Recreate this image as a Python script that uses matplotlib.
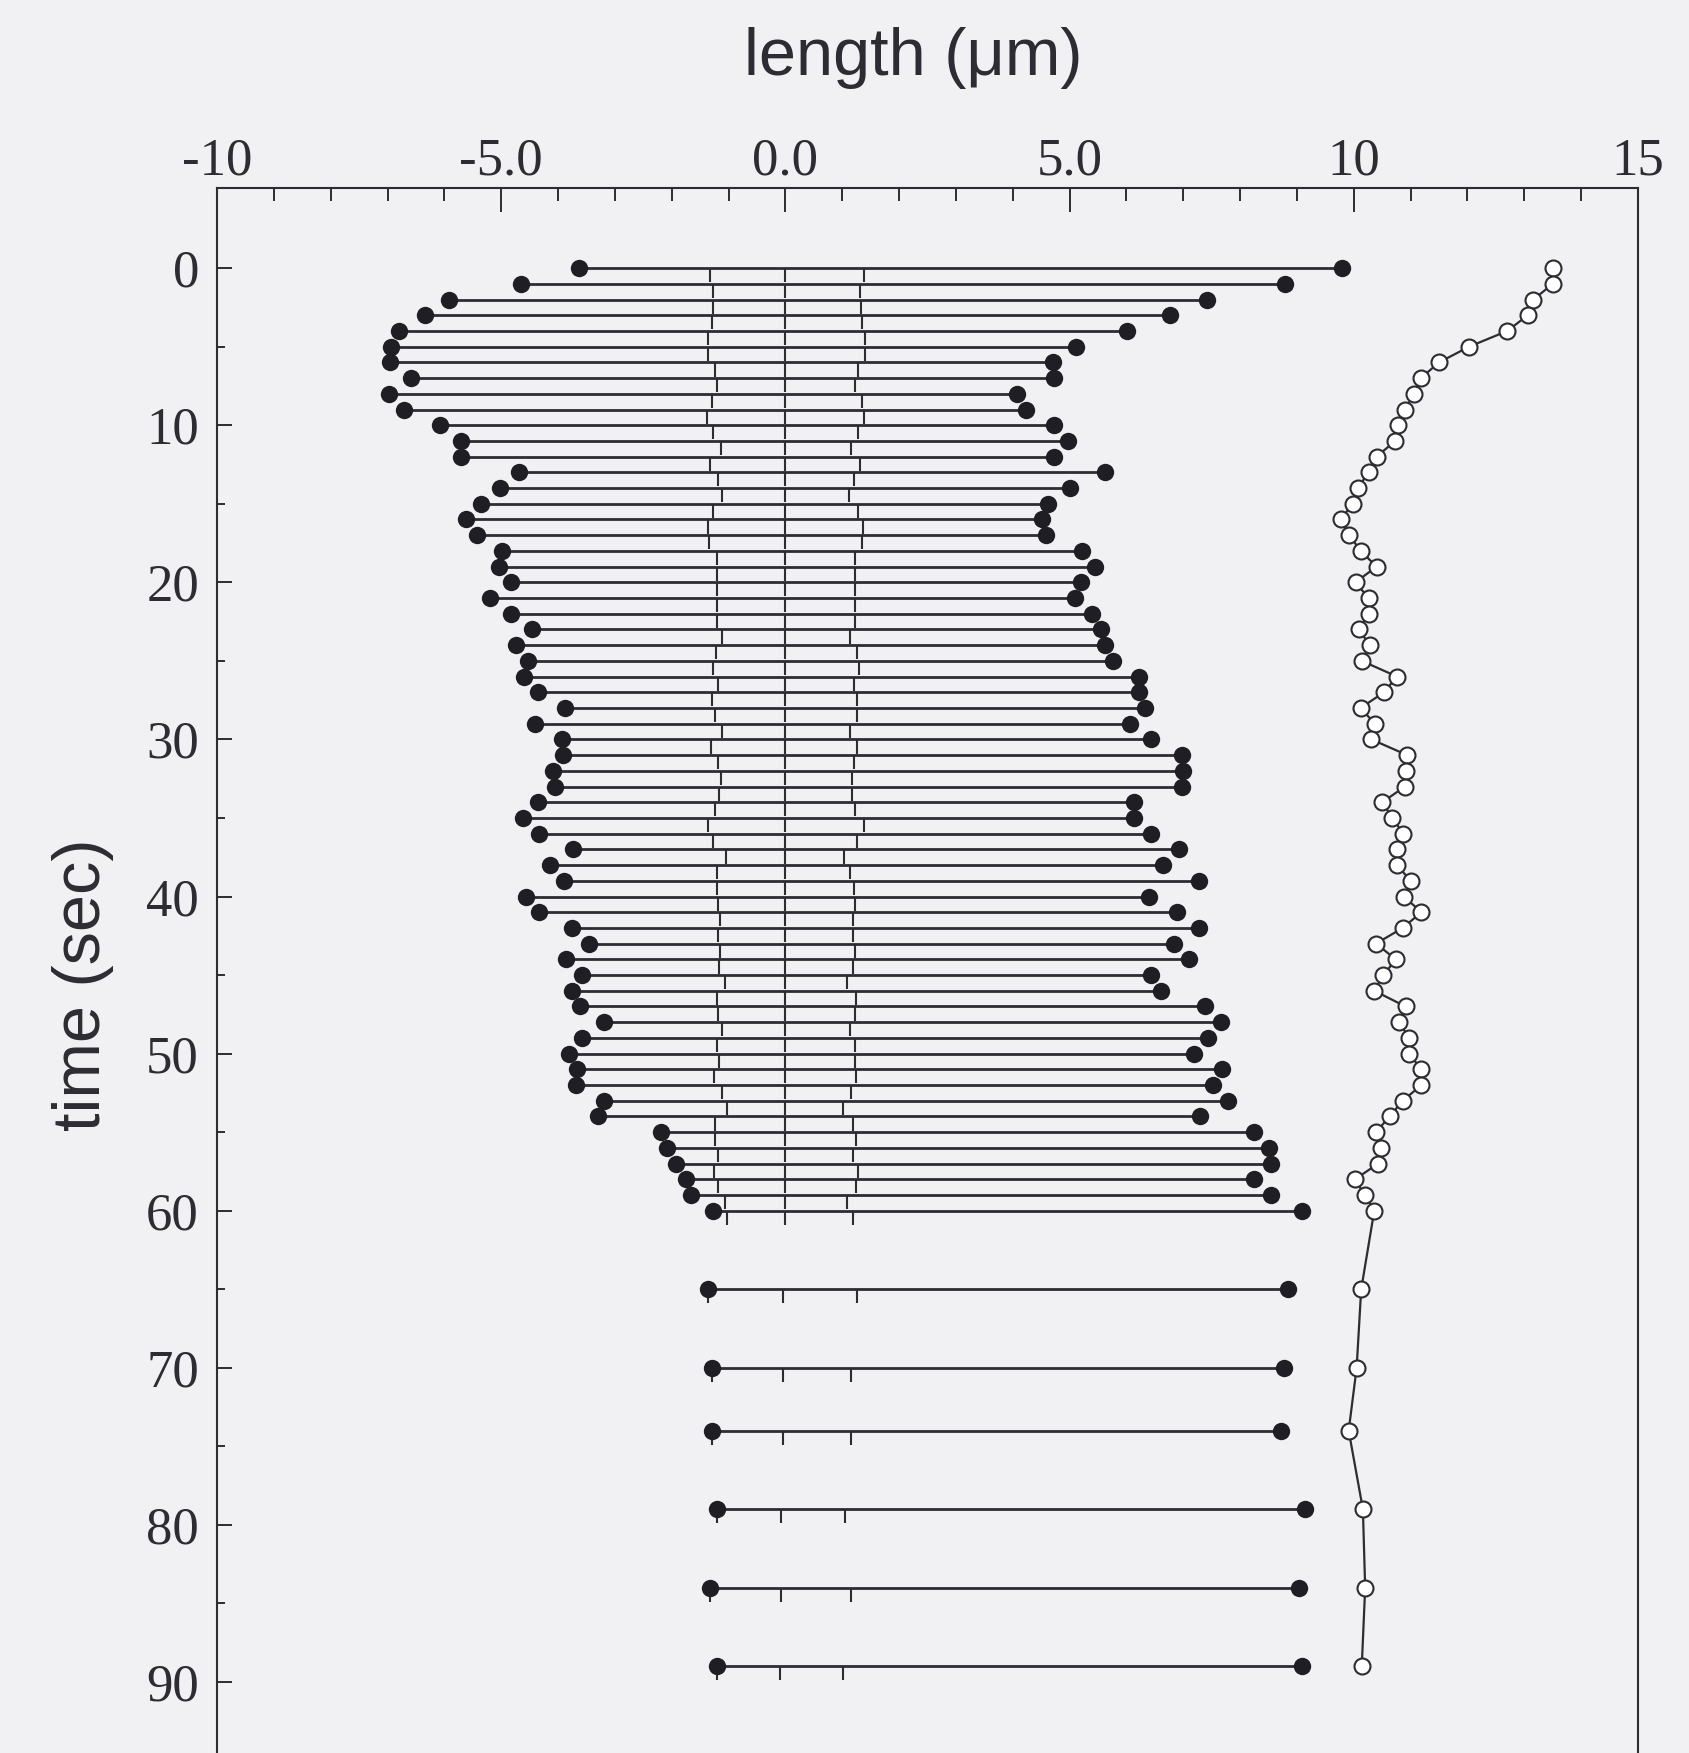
import matplotlib.pyplot as plt
import matplotlib.ticker as mticker

# time of each recorded row (sec)
times = [0, 1, 2, 3, 4, 5, 6, 7, 8, 9, 10, 11, 12, 13, 14, 15, 16, 17, 18, 19,
         20, 21, 22, 23, 24, 25, 26, 27, 28, 29, 30, 31, 32, 33, 34, 35, 36, 37, 38, 39,
         40, 41, 42, 43, 44, 45, 46, 47, 48, 49, 50, 51, 52, 53, 54, 55, 56, 57, 58, 59,
         60, 65, 70, 74, 79, 84, 89]

# left end (filled dot), um
left_end = [-3.63, -4.65, -5.91, -6.34, -6.80, -6.94, -6.95, -6.59, -6.98, -6.71,
            -6.08, -5.71, -5.71, -4.69, -5.02, -5.35, -5.62, -5.43, -4.98, -5.04,
            -4.83, -5.20, -4.83, -4.46, -4.74, -4.52, -4.60, -4.35, -3.88, -4.40,
            -3.93, -3.91, -4.08, -4.05, -4.35, -4.62, -4.34, -3.73, -4.15, -3.89,
            -4.57, -4.33, -3.76, -3.46, -3.86, -3.58, -3.76, -3.62, -3.20, -3.58,
            -3.80, -3.66, -3.69, -3.20, -3.30, -2.18, -2.08, -1.92, -1.74, -1.66,
            -1.27, -1.36, -1.29, -1.30, -1.20, -1.32, -1.20]

# right end (filled dot), um
right_end = [9.79, 8.79, 7.42, 6.76, 6.01, 5.11, 4.70, 4.72, 4.07, 4.23,
             4.73, 4.98, 4.73, 5.62, 5.00, 4.62, 4.52, 4.59, 5.22, 5.44,
             5.20, 5.09, 5.40, 5.56, 5.62, 5.76, 6.22, 6.22, 6.33, 6.07,
             6.44, 6.98, 7.00, 6.98, 6.14, 6.14, 6.44, 6.92, 6.64, 7.28,
             6.39, 6.89, 7.28, 6.83, 7.10, 6.43, 6.60, 7.39, 7.66, 7.43,
             7.19, 7.69, 7.52, 7.78, 7.30, 8.24, 8.50, 8.54, 8.24, 8.54,
             9.08, 8.85, 8.78, 8.72, 9.15, 9.03, 9.09]

# total length (open circles), um
total_len = [13.50, 13.50, 13.16, 13.06, 12.70, 12.03, 11.50, 11.18, 11.06, 10.90,
             10.78, 10.73, 10.40, 10.26, 10.07, 9.98, 9.77, 9.92, 10.12, 10.40,
             10.03, 10.26, 10.26, 10.09, 10.28, 10.14, 10.76, 10.53, 10.12, 10.37,
             10.31, 10.94, 10.92, 10.90, 10.50, 10.68, 10.87, 10.76, 10.76, 11.00,
             10.88, 11.19, 10.86, 10.39, 10.74, 10.52, 10.36, 10.91, 10.80, 10.97,
             10.97, 11.19, 11.19, 10.86, 10.63, 10.39, 10.47, 10.43, 10.02, 10.19,
             10.36, 10.13, 10.05, 9.91, 10.16, 10.20, 10.14]

# inner marks: left, middle and right positions, um
mark_left = [-1.33, -1.27, -1.27, -1.29, -1.36, -1.36, -1.23, -1.20, -1.30, -1.38,
             -1.27, -1.14, -1.32, -1.19, -1.12, -1.27, -1.36, -1.35, -1.20, -1.20,
             -1.20, -1.20, -1.20, -1.12, -1.22, -1.28, -1.18, -1.30, -1.24, -1.12,
             -1.31, -1.18, -1.14, -1.16, -1.24, -1.36, -1.27, -1.04, -1.20, -1.20,
             -1.19, -1.15, -1.19, -1.15, -1.17, -1.07, -1.20, -1.19, -1.11, -1.20,
             -1.17, -1.25, -1.12, -1.03, -1.23, -1.23, -1.19, -1.25, -1.19, -1.07,
             -1.03, -1.36, -1.29, -1.30, -1.20, -1.32, -1.20]
mark_mid = [0.0] * 61 + [-0.05, -0.05, -0.05, -0.07, -0.08, -0.10]
mark_right = [1.38, 1.31, 1.33, 1.34, 1.40, 1.40, 1.28, 1.23, 1.34, 1.38,
              1.28, 1.15, 1.31, 1.20, 1.12, 1.28, 1.37, 1.35, 1.23, 1.23,
              1.23, 1.23, 1.23, 1.14, 1.26, 1.29, 1.20, 1.26, 1.26, 1.14,
              1.26, 1.20, 1.18, 1.18, 1.23, 1.39, 1.26, 1.03, 1.14, 1.20,
              1.22, 1.19, 1.19, 1.22, 1.19, 1.08, 1.24, 1.22, 1.13, 1.22,
              1.22, 1.24, 1.16, 1.02, 1.19, 1.24, 1.19, 1.28, 1.24, 1.08,
              1.19, 1.26, 1.16, 1.16, 1.05, 1.15, 1.01]
mark_len = 0.9  # marks hang below each row

bg = '#f1f1f3'
ink = '#2c2c32'

W, H = 1689, 1753
fig = plt.figure(figsize=(W / 100, H / 100), dpi=100, facecolor=bg)
x0, x1 = 217, 1638          # spine positions in px
ytop = 188
px_per_sec = 15.71
ymin_t, ymax_t = -5.1, 95.0
h_px = (ymax_t - ymin_t) * px_per_sec
ax = fig.add_axes([x0 / W, 1 - (ytop + h_px) / H, (x1 - x0) / W, h_px / H])
ax.set_facecolor(bg)

ax.hlines(times, left_end, right_end, color=ink, lw=2.0, zorder=2)
tb = [t + mark_len for t in times]
for mk in (mark_left, mark_mid, mark_right):
    ax.vlines(mk, times, tb, color=ink, lw=1.5, zorder=2)
ax.plot(left_end, times, 'o', color='#1e1e24', ms=12.5, zorder=3, mec='none')
ax.plot(right_end, times, 'o', color='#1e1e24', ms=12.5, zorder=3, mec='none')
ax.plot(total_len, times, '-o', color=ink, lw=1.6, ms=11.5, mfc='white',
        mec=ink, mew=1.5, zorder=4)

ax.set_xlim(-10, 15)
ax.set_ylim(ymax_t, ymin_t)

ax.xaxis.tick_top()
ax.set_xticks([-10, -5, 0, 5, 10, 15])
ax.set_xticklabels(['-10', '-5.0', '0.0', '5.0', '10', '15'])
ax.xaxis.set_minor_locator(mticker.MultipleLocator(1))
ax.set_yticks([0, 10, 20, 30, 40, 50, 60, 70, 80, 90])
ax.yaxis.set_minor_locator(mticker.FixedLocator([5, 15, 25, 35, 45, 55, 65, 75, 85, 95]))

ax.tick_params(axis='x', which='major', direction='in', length=17, width=1.4,
               pad=2, labelsize=38, colors=ink, bottom=False, top=True)
ax.tick_params(axis='x', which='minor', direction='in', length=9, width=1.4,
               bottom=False, top=True, colors=ink)
ax.tick_params(axis='y', which='major', direction='in', length=11, width=1.4,
               pad=13, labelsize=38, colors=ink, right=False)
ax.tick_params(axis='y', which='minor', direction='in', length=6, width=1.4,
               right=False, colors=ink)
for lab in ax.get_xticklabels() + ax.get_yticklabels():
    lab.set_fontfamily('Liberation Serif')

for s in ax.spines.values():
    s.set_linewidth(1.5)
    s.set_color(ink)

fig.text(913 / W, 1 - 75 / H, 'length (\u03bcm)', ha='center', va='baseline',
         fontsize=48, family='Liberation Sans', color=ink)
fig.text(83 / W, 1 - 985 / H, 'time (sec)', ha='center', va='center',
         rotation=90, fontsize=48, family='Liberation Sans', color=ink)

fig.savefig('out.png', dpi=100, facecolor=bg)
